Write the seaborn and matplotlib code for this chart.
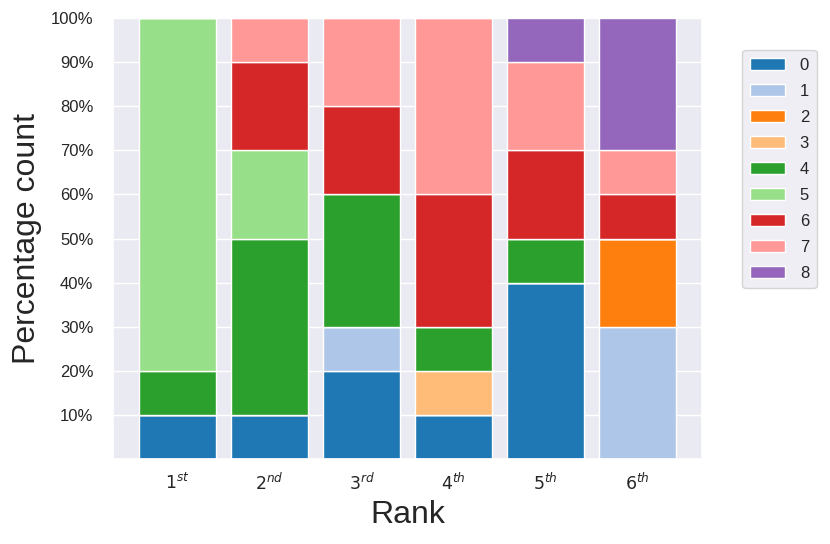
import matplotlib
matplotlib.use("Agg")
import matplotlib.pyplot as plt
import matplotlib.patches as mpatches
import seaborn as sns
import pandas as pd

ranks = ["$1^{st}$", "$2^{nd}$", "$3^{rd}$", "$4^{th}$", "$5^{th}$", "$6^{th}$"]
categories = ["0", "1", "2", "3", "4", "5", "6", "7", "8"]
# percentage per category for each rank (rows: category, cols: rank)
cat0 = [10, 10, 20, 10, 40, 0]
cat1 = [0, 0, 10, 0, 0, 30]
cat2 = [0, 0, 0, 0, 0, 20]
cat3 = [0, 0, 0, 10, 0, 0]
cat4 = [10, 40, 30, 10, 10, 0]
cat5 = [80, 20, 0, 0, 0, 0]
cat6 = [0, 20, 20, 30, 20, 10]
cat7 = [0, 10, 20, 40, 20, 10]
cat8 = [0, 0, 0, 0, 10, 30]
values = [cat0, cat1, cat2, cat3, cat4, cat5, cat6, cat7, cat8]

rows = []
for c, vals in zip(categories, values):
    for i, v in enumerate(vals):
        if v > 0:
            rows.append({"rank": i, "cat": c, "pct": v})
df = pd.DataFrame(rows)

sns.set_theme(style="darkgrid")
plt.rcParams["font.family"] = ["Liberation Sans", "DejaVu Sans"]

colors = sns.color_palette("tab20", 20)[:9]
pal = dict(zip(categories, colors))

fig, ax = plt.subplots(figsize=(8.3, 5.44), dpi=100)
fig.subplots_adjust(left=0.136, right=0.846, top=0.967, bottom=0.156)

sns.histplot(data=df, x="rank", hue="cat", weights="pct", multiple="stack",
             discrete=True, shrink=0.84, hue_order=categories[::-1],
             palette=pal, alpha=1, edgecolor="white", linewidth=1,
             legend=False, ax=ax)

ax.set_xlim(-0.7, 5.7)
ax.set_ylim(0, 100)
ax.set_xticks(range(len(ranks)))
ax.set_xticklabels(ranks, fontsize=12.5)
ax.set_yticks(range(10, 101, 10))
ax.set_yticklabels([f"{v}%" for v in range(10, 101, 10)], fontsize=12)
ax.set_xlabel("Rank", fontsize=23, labelpad=5)
ax.set_ylabel("Percentage count", fontsize=23, labelpad=6)
ax.tick_params(axis="x", length=0, pad=9)
ax.tick_params(axis="y", length=0, pad=14)

handles = [mpatches.Patch(facecolor=pal[c], edgecolor="white", label=c) for c in categories]
ax.legend(handles=handles, loc="upper left", bbox_to_anchor=(1.068, 0.927),
          borderaxespad=0, fontsize=12, frameon=True, handlelength=2.1,
          labelspacing=0.66, handletextpad=0.9, borderpad=0.45)

fig.savefig("out.png", dpi=100)
